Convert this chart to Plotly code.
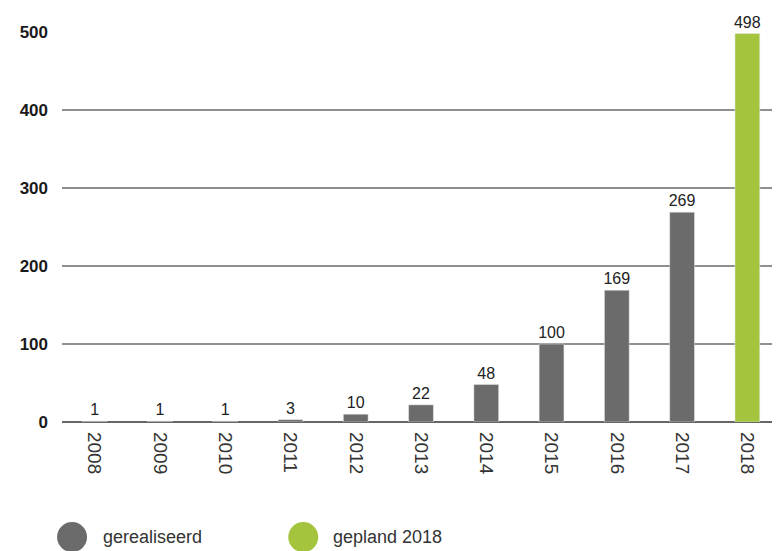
import plotly.graph_objects as go

years = ["2008", "2009", "2010", "2011", "2012", "2013", "2014", "2015", "2016", "2017", "2018"]
realised = [1, 1, 1, 3, 10, 22, 48, 100, 169, 269, None]
planned = [None, None, None, None, None, None, None, None, None, None, 498]
y_ticks = [0, 100, 200, 300, 400, 500]
legend_labels = ["gerealiseerd", "gepland 2018"]

GREY = "#6b6b6b"
GREEN = "#a3c43c"
FONT = "Liberation Sans, Arial, sans-serif"

fig = go.Figure()
fig.add_trace(go.Bar(
    x=years, y=realised, marker_color=GREY, width=0.38,
    text=[("" if v is None else str(v)) for v in realised], textposition="outside",
    textfont=dict(family=FONT, size=16, color="#222222"), cliponaxis=False,
    constraintext="none", showlegend=False,
))
fig.add_trace(go.Bar(
    x=years, y=planned, marker_color=GREEN, width=0.38,
    text=[("" if v is None else str(v)) for v in planned], textposition="outside",
    textfont=dict(family=FONT, size=16, color="#222222"), cliponaxis=False,
    constraintext="none", showlegend=False,
))

# custom legend (large circles + labels), positioned in paper coordinates
legend_y = -0.295
legend_items = [(0.014, 0.055, GREY, legend_labels[0]), (0.336, 0.375, GREEN, legend_labels[1])]
shapes = []
annotations = []
for cx, tx, col, lab in legend_items:
    shapes.append(dict(type="circle", xref="paper", yref="paper",
                       xsizemode="pixel", ysizemode="pixel",
                       xanchor=cx, yanchor=legend_y,
                       x0=-15, x1=15, y0=-15, y1=15,
                       fillcolor=col, line=dict(width=0)))
    annotations.append(dict(xref="paper", yref="paper", x=tx, y=legend_y,
                            xanchor="left", yanchor="middle", showarrow=False,
                            text=lab, font=dict(family=FONT, size=18, color="#333333")))

fig.update_layout(
    width=772, height=543,
    margin=dict(l=54, r=0, t=24, b=129, autoexpand=False),
    paper_bgcolor="white", plot_bgcolor="white",
    barmode="overlay",
    font=dict(family=FONT, color="#2a2a2a"),
    showlegend=False,
    shapes=shapes,
    annotations=annotations,
    xaxis=dict(
        type="category", tickangle=90, showgrid=False, showline=False,
        ticks="", tickfont=dict(family=FONT, size=19, color="#333333"),
        ticklabelstandoff=9,
    ),
    yaxis=dict(
        range=[0, 500], tickvals=y_ticks, showgrid=True, gridcolor="#8f8f8f", gridwidth=1.5,
        zeroline=True, zerolinecolor="#666666", zerolinewidth=2,
        tickfont=dict(family=FONT, size=17, color="#1a1a1a", weight="bold"),
        ticklabelstandoff=13, showline=False, ticks="",
    ),
)

fig.write_html("out.html")
